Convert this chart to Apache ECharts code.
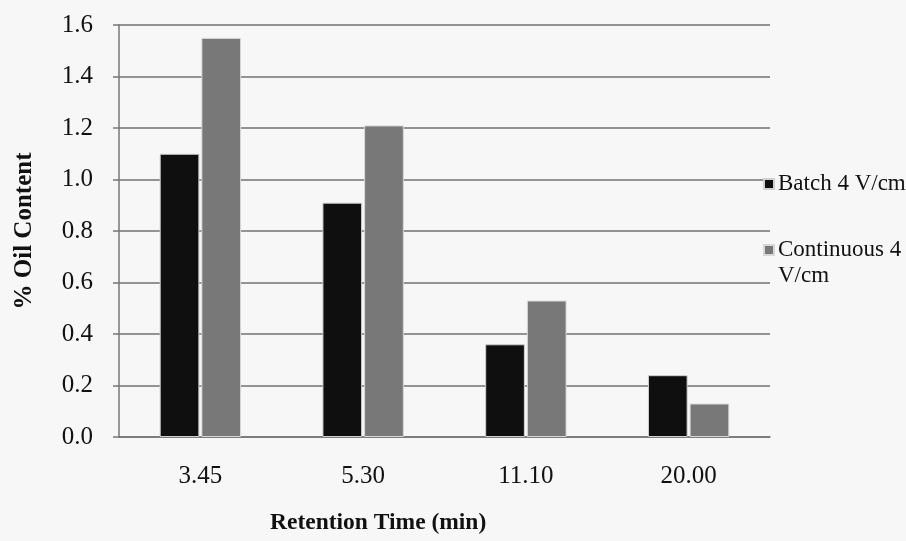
<!DOCTYPE html>
<html>
<head>
<meta charset="utf-8">
<script src="https://cdn.jsdelivr.net/npm/echarts@6/dist/echarts.min.js"></script>
<style>
html,body{margin:0;padding:0;background:#f7f7f7;}
#chart{width:906px;height:541px;}
</style>
</head>
<body>
<div id="chart"></div>
<script>
var categories = ['3.45', '5.30', '11.10', '20.00'];
var batchValues = [1.10, 0.91, 0.36, 0.24];
var continuousValues = [1.55, 1.21, 0.53, 0.13];
var yTicks = [0, 0.2, 0.4, 0.6, 0.8, 1.0, 1.2, 1.4, 1.6];
var seriesNames = ['Batch 4 V/cm', 'Continuous 4 V/cm'];

var font = "'Liberation Serif', 'Times New Roman', serif";
var legendText = {fontFamily: font, fontSize: 23, color: '#111', lineHeight: 26, padding: [0, 0, 0, -1]};
var chart = echarts.init(document.getElementById('chart'));
chart.setOption({
  backgroundColor: '#f7f7f7',
  animation: false,
  textStyle: {fontFamily: font},
  title: {
    text: 'Retention Time (min)',
    left: 270,
    top: 511,
    padding: 0,
    textStyle: {fontFamily: font, fontWeight: 'bold', fontSize: 23.5, color: '#111'}
  },
  legend: {
    orient: 'vertical',
    left: 758,
    top: 160,
    itemWidth: 10,
    itemHeight: 36,
    itemGap: 34,
    data: [
      {name: seriesNames[0], icon: 'path://M0,-13h0M0,0h10v10h-10zM0,23h0', textStyle: legendText},
      {name: seriesNames[1], icon: 'path://M0,0h10v10h-10zM0,36h0', textStyle: legendText}
    ],
    formatter: function (n) { return n === 'Continuous 4 V/cm' ? 'Continuous 4\nV/cm' : n; },
    textStyle: legendText
  },
  grid: {left: 119, right: 136, top: 25, bottom: 104},
  xAxis: {
    type: 'category',
    data: categories,
    axisLine: {show: true, lineStyle: {color: '#777', width: 1.5}},
    axisTick: {show: false},
    axisLabel: {fontFamily: font, fontSize: 25, color: '#111', margin: 27}
  },
  yAxis: {
    type: 'value',
    min: yTicks[0],
    max: yTicks[yTicks.length - 1],
    interval: 0.2,
    name: '% Oil Content',
    nameLocation: 'middle',
    nameGap: 82,
    nameTextStyle: {fontFamily: font, fontWeight: 'bold', fontSize: 25, color: '#111'},
    axisLine: {show: true, lineStyle: {color: '#777', width: 1.5}},
    axisTick: {show: true, length: 6, lineStyle: {color: '#777', width: 1.5}},
    axisLabel: {fontFamily: font, fontSize: 25, color: '#111', margin: 26,
      formatter: function (v) { return v.toFixed(1); }},
    splitLine: {show: true, lineStyle: {color: '#727272', width: 1.5}}
  },
  series: [
    {
      name: seriesNames[0],
      type: 'bar',
      data: batchValues,
      barCategoryGap: '50%',
      barGap: '5%',
      itemStyle: {color: '#0f0f0f', borderColor: '#d0d0d0', borderWidth: 1}
    },
    {
      name: seriesNames[1],
      type: 'bar',
      data: continuousValues,
      itemStyle: {color: '#787878', borderColor: '#d8d8d8', borderWidth: 1}
    }
  ]
});
</script>
</body>
</html>
